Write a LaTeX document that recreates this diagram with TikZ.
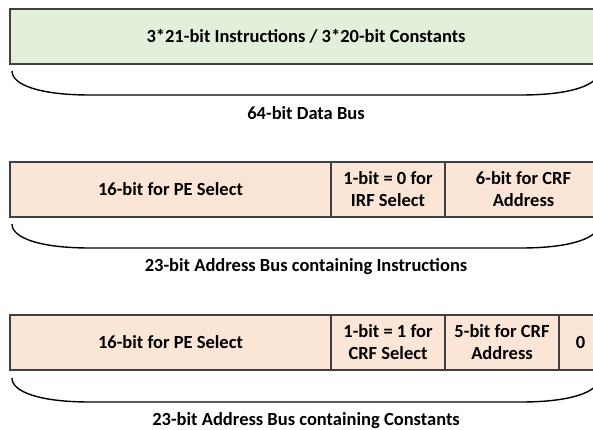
\documentclass[tikz,border=0pt]{standalone}
\usepackage{fontspec}
\setmainfont{Carlito}
\definecolor{greenfill}{HTML}{E2EFDA}
\definecolor{peachfill}{HTML}{FBE5D6}
\definecolor{edgegray}{HTML}{404040}
\begin{document}
\begin{tikzpicture}[x=1pt,y=-1pt,
  every node/.style={font=\fontsize{18.5}{22}\selectfont\bfseries, inner sep=0pt, outer sep=0pt},
  cell/.style={draw=edgegray, line width=1.4pt, minimum height=55pt, anchor=north west, align=center},
  greencell/.style={cell, fill=greenfill},
  peachcell/.style={cell, fill=peachfill},
  bracket/.style={draw=black, line width=1.4pt},
  caption/.style={anchor=center}
]
\clip (0,0) rectangle (593,430);
\fill[white] (0,0) rectangle (593,430);

% Row 1
\node[greencell, minimum width=592pt] (dbox) at (10,9) {3*21-bit Instructions / 3*20-bit Constants};
\draw[bracket] (12,71) .. controls (12,85) and (40,95) .. (90,95) -- (521,95) .. controls (571,95) and (599,85) .. (599,71);
\node[caption] (dlab) at (306,113) {64-bit Data Bus};

% Row 2
\node[peachcell, minimum width=321pt] (ia) at (10,162) {16-bit for PE Select};
\node[peachcell, minimum width=114pt] (ib) at (331,162) {1-bit = 0 for\\IRF Select};
\node[peachcell, minimum width=157pt] (ic) at (445,162) {6-bit for CRF\\Address};
\draw[bracket] (12,224) .. controls (12,238) and (40,248) .. (90,248) -- (521,248) .. controls (571,248) and (599,238) .. (599,224);
\node[caption] (ilab) at (306,267) {23-bit Address Bus containing Instructions};

% Row 3
\node[peachcell, minimum width=321pt] (ca) at (10,315) {16-bit for PE Select};
\node[peachcell, minimum width=114pt] (cb) at (331,315) {1-bit = 1 for\\CRF Select};
\node[peachcell, minimum width=114pt] (cc) at (445,315) {5-bit for CRF\\Address};
\node[peachcell, minimum width=43pt] (cd) at (559,315) {0};
\draw[bracket] (12,378) .. controls (12,392) and (40,402) .. (90,402) -- (521,402) .. controls (571,402) and (599,392) .. (599,378);
\node[caption] (clab) at (306,421) {23-bit Address Bus containing Constants};
\end{tikzpicture}
\end{document}
